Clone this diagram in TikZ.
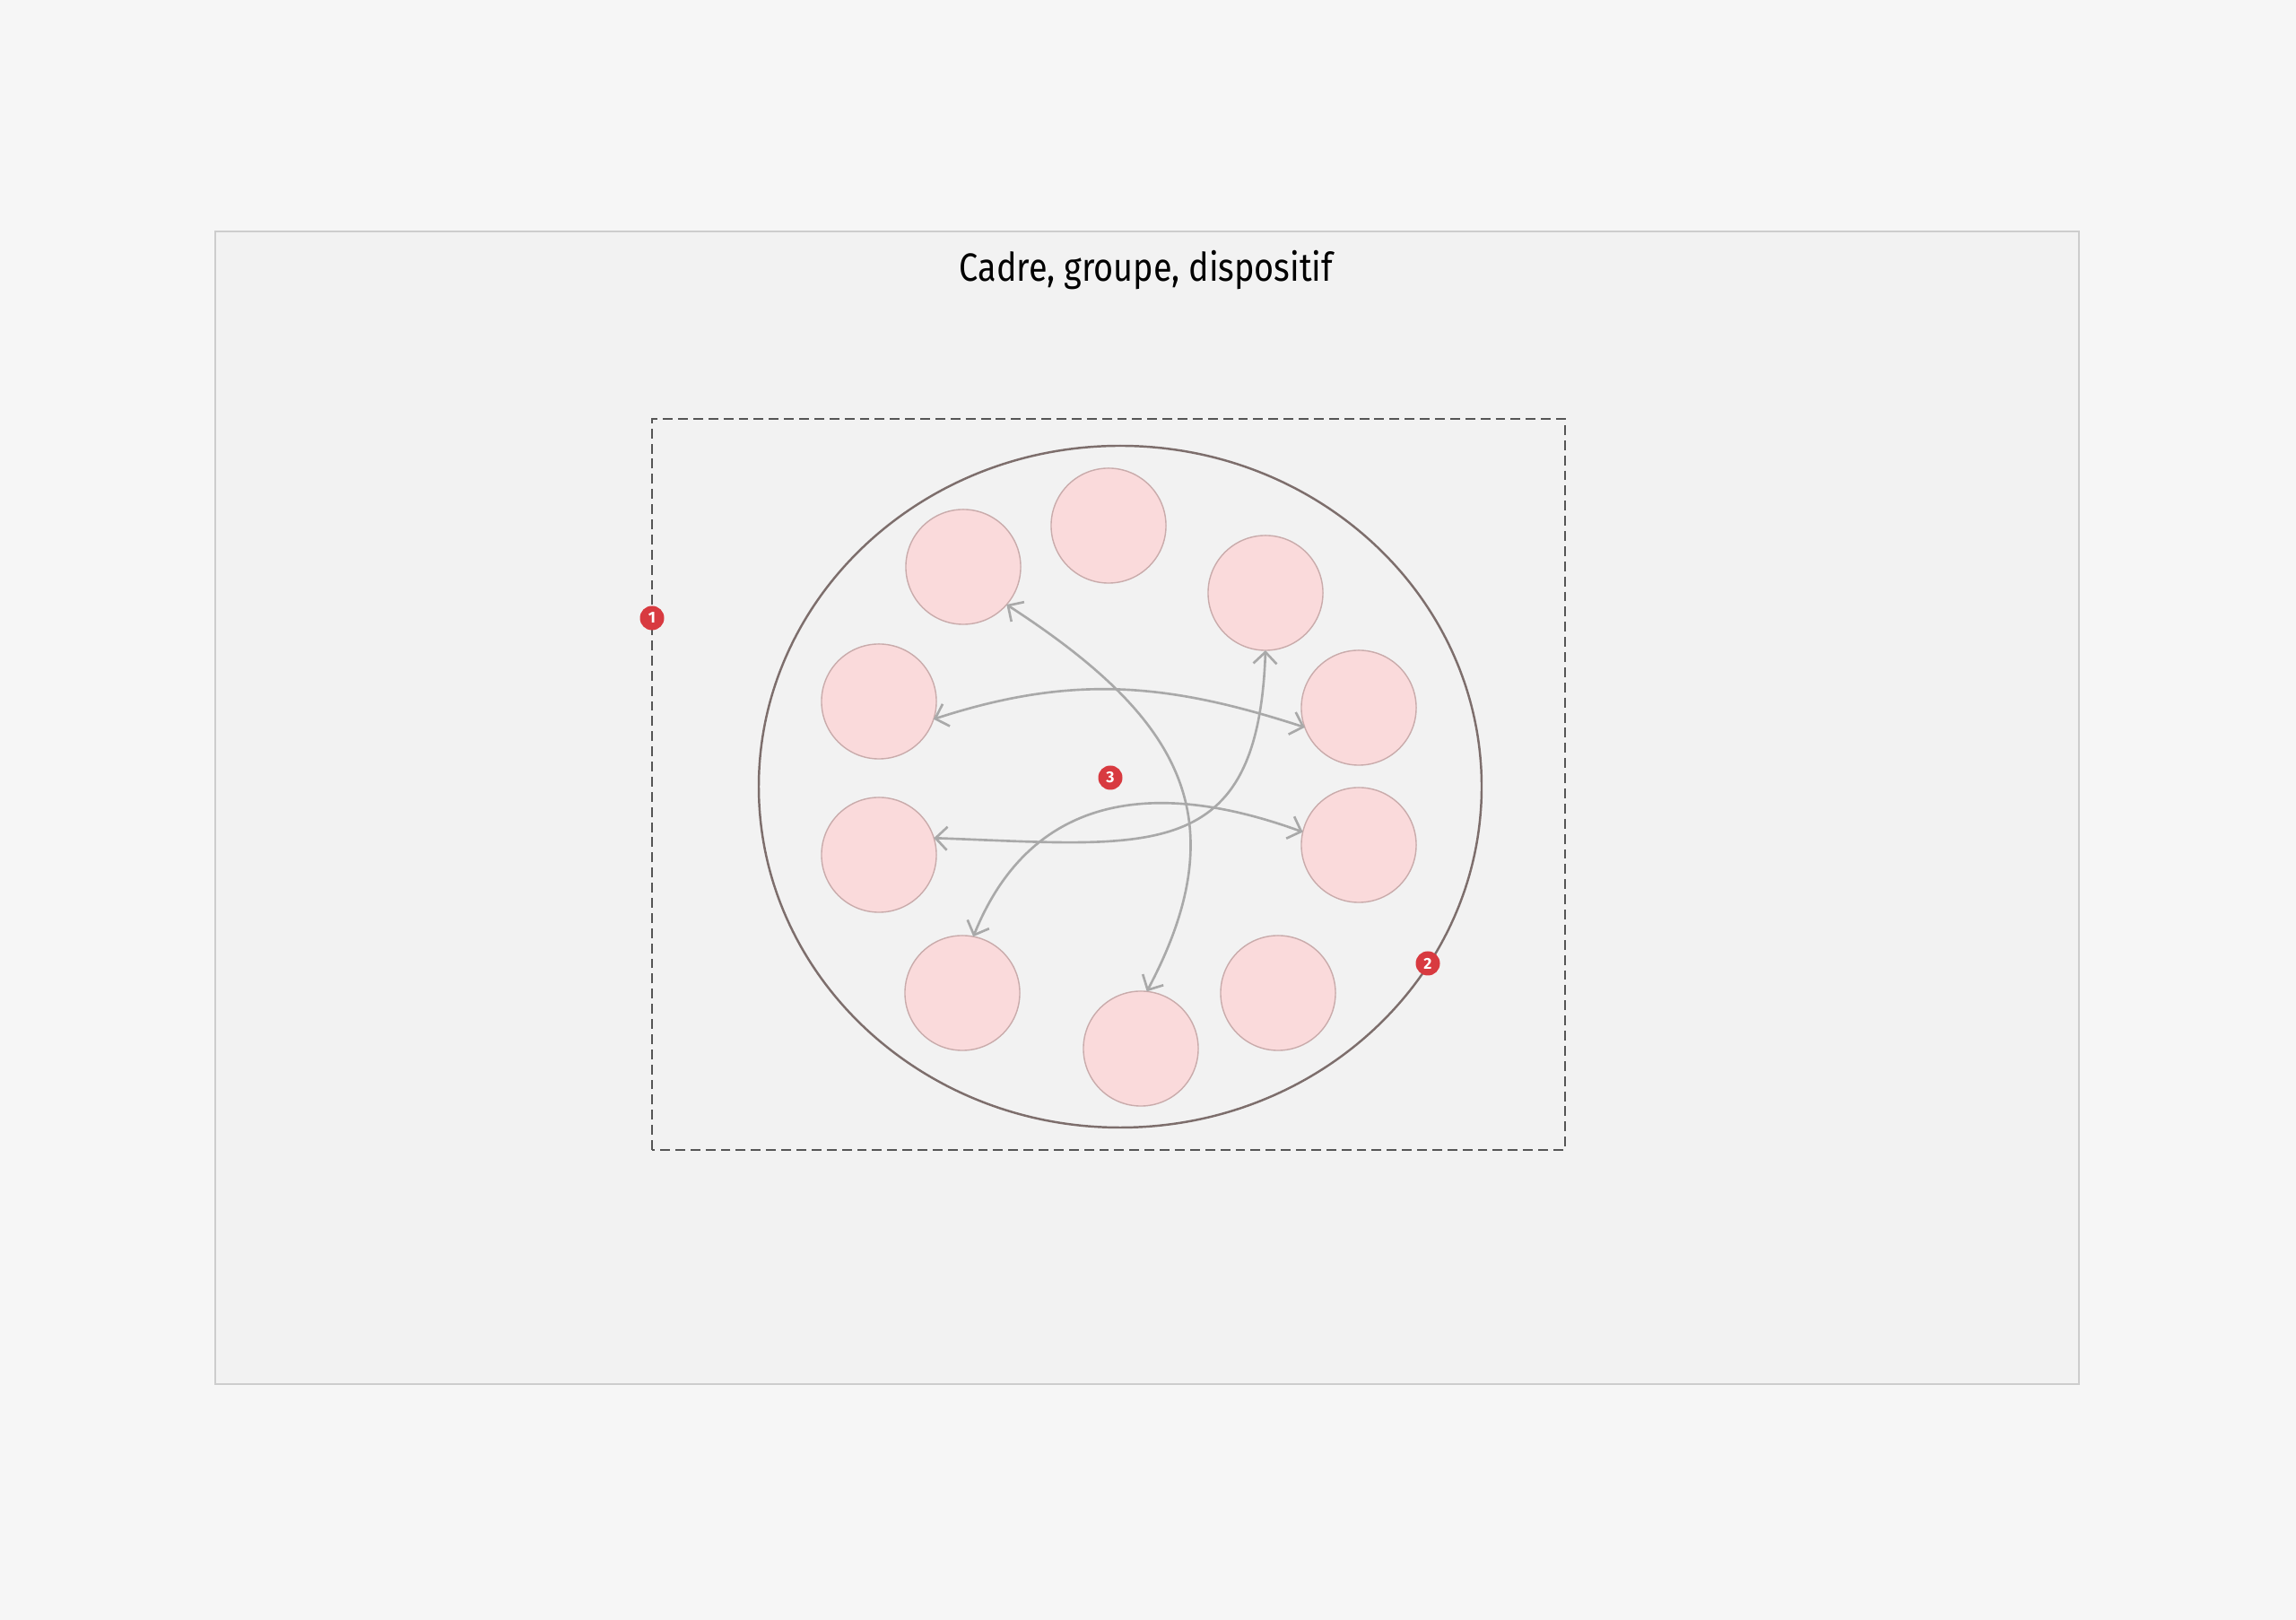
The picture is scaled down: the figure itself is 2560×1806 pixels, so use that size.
\documentclass[tikz,border=0pt]{standalone}
\usepackage{fontspec}
\usetikzlibrary{arrows.meta,positioning}
\newfontfamily\titlefont[FakeStretch=0.86]{Fira Sans}
\newfontfamily\markerfont{Fira Sans}
\definecolor{pagebg}{HTML}{F6F6F6}
\definecolor{panelbg}{HTML}{F2F2F2}
\definecolor{panelline}{HTML}{CDCDCD}
\definecolor{frameline}{HTML}{555555}
\definecolor{groupline}{HTML}{7D6E6C}
\definecolor{memberfill}{HTML}{FADADB}
\definecolor{memberline}{HTML}{C9ABAB}
\definecolor{linkgray}{HTML}{A9A9A9}
\definecolor{markerred}{HTML}{D83A40}
\tikzset
{
	member/.style = {circle, draw=memberline, fill=memberfill, line width=0.4pt, minimum size=1.28cm, inner sep=0pt, outer sep=0pt},
	marker/.style = {circle, fill=markerred, text=white, font=\markerfont\bfseries\fontsize{5}{5}\selectfont, minimum size=0.27cm, inner sep=0pt},
	link/.style   = {draw=linkgray, line width=0.75pt, {Straight Barb[length=1.3mm,width=2.6mm]}-{Straight Barb[length=1.3mm,width=2.6mm]}}
}

\begin{document}
\begin{tikzpicture}[x=0.01cm, y=0.01cm]
\fill[pagebg] (0,0) rectangle (2560,1806);
\draw[panelline, fill=panelbg, line width=0.5pt] (240,263) rectangle (2318,1548);
\node[anchor=base, font=\titlefont\fontsize{12.5}{14}\selectfont] (title) at (1278,1492) {Cadre, groupe, dispositif};

% cadre et groupe
\draw[frameline, line width=0.55pt, dash pattern=on 3.1pt off 1.7pt] (727,524) rectangle (1745,1339);
\draw[groupline, line width=0.7pt] (1249,929) ellipse [x radius=403, y radius=380];

\node[member] (c1) at (1074,1174) {};
\node[member] (c2) at (1236,1220) {};
\node[member] (c3) at (1411,1145) {};
\node[member] (c4) at (980,1024) {};
\node[member] (c5) at (1515,1017) {};
\node[member] (c6) at (980,853) {};
\node[member] (c7) at (1515,864) {};
\node[member] (c8) at (1073,699) {};
\node[member] (c9) at (1425,699) {};
\node[member] (c10) at (1272,637) {};

\draw[link] (c1.-41) to[out=-33, in=62, looseness=1.25] (c10.84);
\draw[link] (c4.-18) to[out=18, in=162] (c5.-160);
\draw[link] (c6.17) to[out=-2, in=-92, looseness=1.45] (c3.-90);
\draw[link] (c8.79) to[out=68, in=160, looseness=1.15] (c7.167);

\node[marker] (m1) at (727,1117) {1};
\node[marker] (m2) at (1592,732) {2};
\node[marker] (m3) at (1238,939) {3};
\end{tikzpicture}
\end{document}
